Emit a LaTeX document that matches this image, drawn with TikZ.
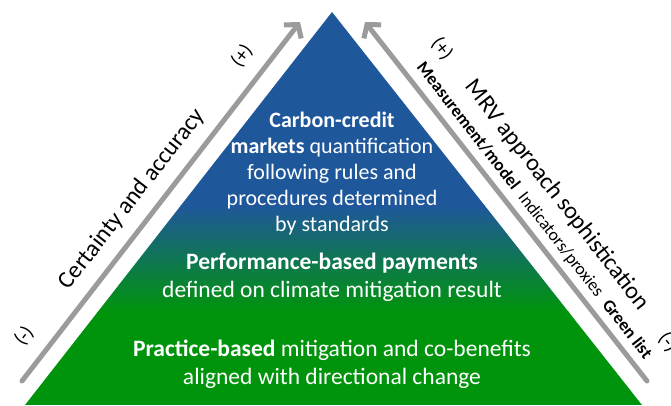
\documentclass[tikz,border=0pt]{standalone}
\usepackage{fontspec}
\setmainfont{Carlito}
\usepackage{tikz}
\usetikzlibrary{arrows.meta}
\definecolor{pyrblue}{RGB}{31,87,155}
\definecolor{pyrgreen}{RGB}{0,148,12}
\definecolor{arrowgray}{RGB}{155,155,155}

\begin{document}
\begin{tikzpicture}[x=1pt,y=-1pt,
    level/.style={text=white,align=center,font=\fontsize{23.5}{28}\selectfont},
    side/.style={inner sep=0pt,font=\fontsize{24}{28}\selectfont},
    sign/.style={inner sep=0pt,font=\fontsize{20}{24}\selectfont},
    scalearrow/.style={draw=arrowgray,line width=5pt,line cap=round,
        -{Straight Barb[length=9pt,width=22pt]}}]

    \useasboundingbox (0,0) rectangle (671,405);
    \coordinate (apex) at (332,12);
    \coordinate (baseL) at (25,405);
    \coordinate (baseR) at (642,405);
    \begin{scope}
        \clip (apex) -- (baseR) -- (baseL) -- cycle;
        \fill[pyrblue] (0,0) rectangle (671,206);
        \shade[top color=pyrblue,bottom color=pyrgreen] (0,205) rectangle (671,312);
        \fill[pyrgreen] (0,311) rectangle (671,405);
    \end{scope}

    \node[level,font=\fontsize{22}{26}\selectfont] (carbon) at (332,174) {\textbf{Carbon-credit}\\\textbf{markets} quantification\\following rules and\\procedures determined\\by standards};
    \node[level] (perf) at (332,277) {\textbf{Performance-based payments}\\defined on climate mitigation result};
    \node[level] (practice) at (332,364) {\textbf{Practice-based} mitigation and co-benefits\\aligned with directional change};

    \coordinate (certTail) at (22,381);
    \coordinate (certTip) at (300,22);
    \coordinate (mrvTail) at (647,381);
    \coordinate (mrvTip) at (365,22);
    \draw[scalearrow] (certTail) -- (certTip);
    \draw[scalearrow] (mrvTail) -- (mrvTip);

    \node[side,rotate=52] (certainty) at (132,199) {Certainty and accuracy};
    \node[sign,rotate=52] (plusL) at (242,56) {(+)};
    \node[sign,rotate=52] (minusL) at (24,336) {(-)};
    \node[side,rotate=-52] (mrv) at (557,195) {MRV approach sophistication};
    \node[sign,rotate=-52] (plusR) at (442,49) {(+)};
    \node[sign,rotate=-52] (minusR) at (668,342) {(-)};
    \node[inner sep=0pt,rotate=-52,font=\fontsize{17.5}{20}\selectfont] (methods) at (534,211)
        {\textbf{Measurement/model}\enspace Indicators/proxies\enspace\textbf{Green list}};
\end{tikzpicture}
\end{document}
